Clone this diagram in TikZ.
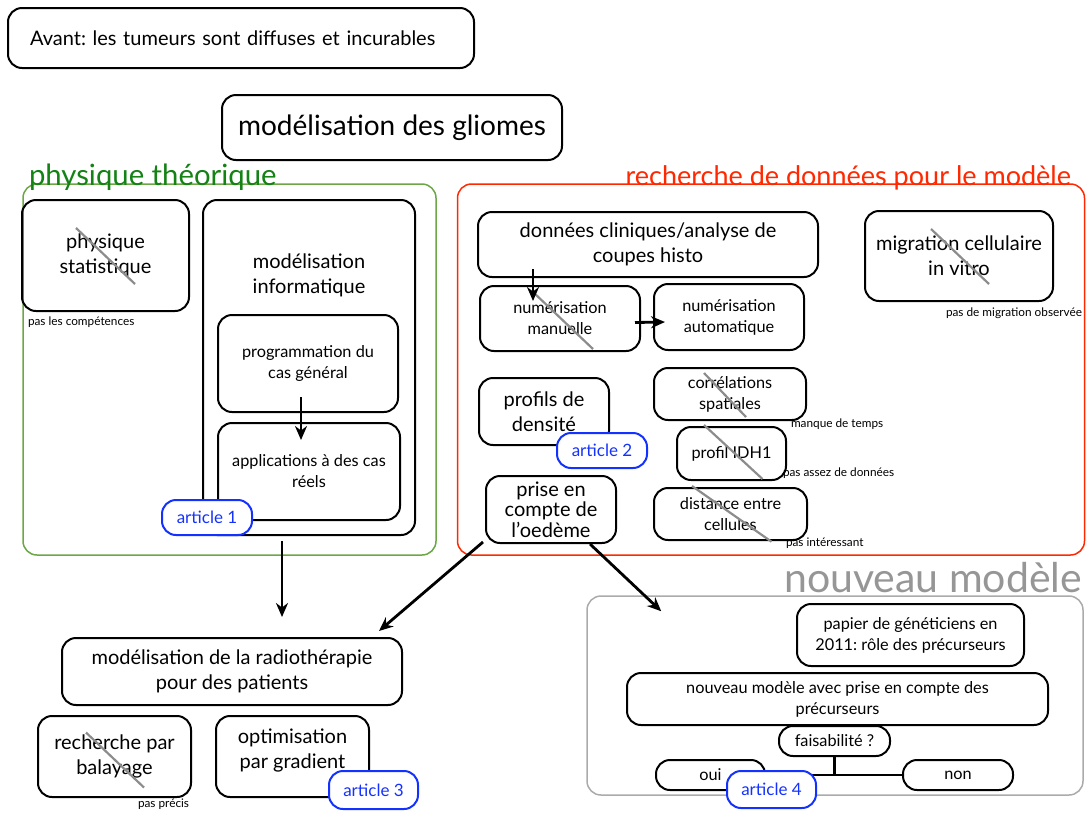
\documentclass[tikz,border=0pt]{standalone}
\usepackage{fontspec}
\setmainfont{Lato}
\usetikzlibrary{shapes,arrows.meta}
\frenchspacing

\definecolor{framegreen}{RGB}{108,166,70}
\definecolor{labelgreen}{RGB}{20,130,20}
\definecolor{framered}{RGB}{255,40,0}
\definecolor{articleblue}{RGB}{20,50,255}
\definecolor{newgray}{RGB}{150,150,150}
\definecolor{strikegray}{RGB}{140,140,140}

\newcommand{\bigsize}{\fontsize{28}{32}\selectfont}
\newcommand{\medsize}{\fontsize{20}{25}\selectfont}
\newcommand{\smallsize}{\fontsize{16.3}{21}\selectfont}
\newcommand{\notesize}{\fontsize{11.8}{13}\selectfont}

\begin{document}
\begin{tikzpicture}[x=1pt, y=-1pt, >={Stealth[length=14pt,width=12pt]}, line width=2pt] % Styles
\tikzstyle{box}=[draw, rounded corners=14pt, align=center, inner sep=2pt, font=\medsize]
\tikzstyle{sbox}=[box, font=\smallsize]
\tikzstyle{frame}=[draw, line width=1.5pt, rounded corners=14pt]
\tikzstyle{framelabel}=[inner sep=0pt, font=\bigsize]
\tikzstyle{article}=[box, draw=articleblue, text=articleblue, fill=white, font=\fontsize{17}{20}\selectfont]
\tikzstyle{note}=[inner sep=0pt, font=\notesize]
\tikzstyle{strike}=[draw=strikegray, line width=2.2pt]
\tikzstyle{arrow}=[->, line width=2.8pt]
\useasboundingbox (0,0) rectangle (1086,812);
% Frames
\node[frame, draw=framegreen, minimum width=413pt, minimum height=371pt] (physframe) at (229.5,369.5) {};
\node[framelabel, text=labelgreen, anchor=base west, font=\fontsize{29.3}{32}\selectfont] (physlabel) at (28,185) {physique théorique};
\node[frame, draw=framered, minimum width=627pt, minimum height=371pt] (dataframe) at (771,369.5) {};
\node[framelabel, text=framered, anchor=base east, font=\fontsize{27}{30}\selectfont] (datalabel) at (1072,185) {recherche de données pour le modèle};
\node[frame, draw=newgray!80, minimum width=496pt, minimum height=199pt] (newframe) at (835,695.5) {};
\node[framelabel, text=newgray, anchor=base east, font=\fontsize{41}{44}\selectfont] (newlabel) at (1083,592) {nouveau modèle};
% Top
\node[box, text width=422pt, inner xsep=22pt, align=left, minimum height=60pt] (avant) at (241,38) {Avant: les tumeurs sont diffuses et incurables};
\node[box, minimum width=340pt, minimum height=65pt, font=\bigsize] (gliomes) at (392,127.5) {modélisation des gliomes};
% Physique theorique
\node[box, minimum width=167pt, minimum height=111pt] (physstat) at (105.5,255.5) {physique\\statistique};
\node[note, anchor=west] (physnote) at (27,322) {pas les compétences};
\node[box, minimum width=212pt, minimum height=335pt] (modinfo) at (309,367.5) {};
\node[align=center, font=\medsize] (modinfotext) at (309,275) {modélisation\\informatique};
\node[sbox, minimum width=180pt, minimum height=97pt] (prog) at (308,363.5) {programmation du\\cas général};
\node[sbox, minimum width=182pt, minimum height=97pt] (appli) at (309,471.5) {applications à des cas\\réels};
\node[article, minimum width=90pt, minimum height=35pt] (art1) at (207,517.5) {article 1};
% Recherche de donnees
\node[box, minimum width=340pt, minimum height=65pt] (donnees) at (648,244.5) {données cliniques/analyse de\\coupes histo};
\node[box, minimum width=188pt, minimum height=90pt] (migration) at (959,256) {migration cellulaire\\in vitro};
\node[note, anchor=east] (mignote) at (1083,313) {pas de migration observée};
\node[sbox, minimum width=160pt, minimum height=65pt] (numman) at (560,318.5) {numérisation\\manuelle};
\node[sbox, minimum width=150pt, minimum height=66pt] (numauto) at (729,317) {numérisation\\automatique};
\node[box, minimum width=130pt, minimum height=67pt] (profils) at (544,411.5) {profils de\\densité};
\node[article, minimum width=90pt, minimum height=35pt] (art2) at (602,450.5) {article 2};
\node[sbox, minimum width=152pt, minimum height=52pt] (correl) at (730,394) {corrélations\\spatiales};
\node[note, anchor=west] (correlnote) at (790,424) {manque de temps};
\node[sbox, minimum width=109pt, minimum height=53pt] (idh) at (731.5,453.5) {profil IDH1};
\node[note, anchor=west] (idhnote) at (782,473) {pas assez de données};
\node[sbox, minimum width=153pt, minimum height=52pt] (dist) at (730.5,514) {distance entre\\cellules};
\node[note, anchor=west] (distnote) at (785,543) {pas intéressant};
\node[box, minimum width=130pt, minimum height=67pt, inner sep=0pt, font=\fontsize{20}{20.5}\selectfont] (prise) at (551,509.5) {prise en\\compte de\\l’oedème};
% Radiotherapie
\node[box, minimum width=340pt, minimum height=67pt] (radio) at (232,671.5) {modélisation de la radiothérapie\\pour des patients};
\node[box, minimum width=153pt, minimum height=81pt] (balayage) at (114.5,756.5) {recherche par\\balayage};
\node[note, anchor=west] (balnote) at (137,804) {pas précis};
\node[box, minimum width=153pt, minimum height=81pt] (optim) at (292.5,756.5) {optimisation\\par gradient\\[-10pt]};
\node[article, minimum width=89pt, minimum height=38pt] (art3) at (373.5,790) {article 3};
% Nouveau modele
\node[sbox, minimum width=227pt, minimum height=62pt] (papier) at (910.5,635) {papier de généticiens en\\2011: rôle des précurseurs};
\node[sbox, minimum width=421pt, minimum height=52pt] (nouvmod) at (837.5,699) {nouveau modèle avec prise en compte des\\précurseurs};
\node[sbox, minimum width=111pt, minimum height=30pt] (faisab) at (834.5,741) {faisabilité ?};
\node[sbox, minimum width=109pt, minimum height=30pt] (oui) at (710.5,775) {oui};
\node[sbox, minimum width=110pt, minimum height=30pt] (non) at (958,775) {non};
\draw[line width=2.8pt] (faisab.south) -- (faisab.south |- oui.east);
\draw[line width=2.8pt] (oui.east) -- (non.west);
\node[article, minimum width=89pt, minimum height=37pt] (art4) at (771.5,789.5) {article 4};
% Strikes
\draw[strike] ([shift={(-29.5,-27.5)}]physstat.center) -- ([shift={(29.5,28.5)}]physstat.center);
\draw[strike] ([shift={(-28,-27)}]migration.center) -- ([shift={(30,28)}]migration.center);
\draw[strike] ([shift={(-27,-26.5)}]numman.center) -- ([shift={(33,30.5)}]numman.center);
\draw[strike] ([shift={(-26,-21)}]correl.center) -- ([shift={(16,23)}]correl.center);
\draw[strike] ([shift={(-27.5,-28.5)}]idh.center) -- ([shift={(31,25.5)}]idh.center);
\draw[strike] ([shift={(-38.5,-28)}]dist.center) -- ([shift={(41,27.7)}]dist.center);
\draw[strike] ([shift={(-28.5,-24)}]balayage.center) -- ([shift={(29.5,31)}]balayage.center);
% Connections
\draw[arrow] ([shift={(-7,-16)}]prog.south) -- ([shift={(-8,18)}]appli.north);
\draw[arrow] ([shift={(-115,-9)}]donnees.south) -- ([shift={(-115,23)}]donnees.south);
\draw[arrow] ([shift={(-6,4)}]numman.east) -- ([shift={(12,5)}]numauto.west);
\draw[arrow] ([shift={(-27,5)}]modinfo.south) -- ([shift={(50,-20)}]radio.north);
\draw[arrow] ([shift={(-2,-2)}]prise.south west) -- ([shift={(-24,-6)}]radio.north east);
\draw[arrow] ([shift={(39,0)}]prise.south) -- ([shift={(75,16)}]newframe.north west);
\end{tikzpicture}
\end{document}
